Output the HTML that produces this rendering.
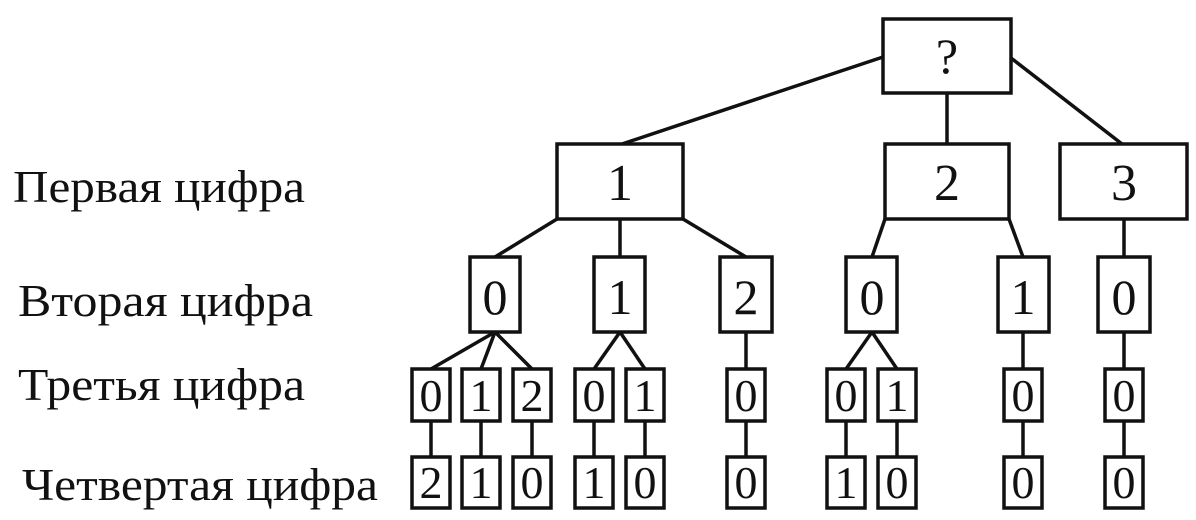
<!DOCTYPE html>
<html><head><meta charset="utf-8"><style>
html,body{margin:0;padding:0;background:#fff;}
svg{display:block;}
text{font-family:"Liberation Serif",serif;fill:#111;}
</style></head><body>
<svg width="1196" height="520" viewBox="0 0 1196 520" xmlns="http://www.w3.org/2000/svg">
<g stroke="#111" stroke-width="3.5" fill="none">
<rect x="883" y="19" width="128" height="74"/>
<line x1="883" y1="57" x2="622" y2="144"/>
<line x1="947" y1="93" x2="947" y2="144"/>
<line x1="1011" y1="58" x2="1122" y2="144"/>
<rect x="557" y="144" width="126" height="75"/>
<rect x="885" y="144" width="124" height="75"/>
<rect x="1060" y="144" width="127" height="75"/>
<line x1="557" y1="219" x2="495" y2="257"/>
<line x1="620" y1="219" x2="620" y2="257"/>
<line x1="683" y1="219" x2="746" y2="257"/>
<line x1="885" y1="219" x2="872" y2="257"/>
<line x1="1009" y1="219" x2="1023" y2="257"/>
<line x1="1124" y1="219" x2="1124" y2="257"/>
<rect x="470" y="257" width="50" height="75"/>
<rect x="594" y="257" width="51" height="75"/>
<rect x="720" y="257" width="52" height="75"/>
<rect x="846" y="257" width="51" height="75"/>
<rect x="998" y="257" width="51" height="75"/>
<rect x="1098" y="257" width="52" height="75"/>
<line x1="495" y1="332" x2="431" y2="369"/>
<line x1="495" y1="332" x2="481" y2="369"/>
<line x1="495" y1="332" x2="532" y2="369"/>
<line x1="620" y1="332" x2="594" y2="369"/>
<line x1="620" y1="332" x2="645" y2="369"/>
<line x1="746" y1="332" x2="746" y2="369"/>
<line x1="872" y1="332" x2="846" y2="369"/>
<line x1="872" y1="332" x2="897" y2="369"/>
<line x1="1023" y1="332" x2="1023" y2="369"/>
<line x1="1124" y1="332" x2="1124" y2="369"/>
<rect x="412" y="369" width="38" height="52"/><rect x="412" y="457" width="38" height="51"/><line x1="431" y1="421" x2="431" y2="457"/>
<rect x="462" y="369" width="38" height="52"/><rect x="462" y="457" width="38" height="51"/><line x1="481" y1="421" x2="481" y2="457"/>
<rect x="513" y="369" width="38" height="52"/><rect x="513" y="457" width="38" height="51"/><line x1="532" y1="421" x2="532" y2="457"/>
<rect x="575" y="369" width="38" height="52"/><rect x="575" y="457" width="38" height="51"/><line x1="594" y1="421" x2="594" y2="457"/>
<rect x="626" y="369" width="38" height="52"/><rect x="626" y="457" width="38" height="51"/><line x1="645" y1="421" x2="645" y2="457"/>
<rect x="727" y="369" width="38" height="52"/><rect x="727" y="457" width="38" height="51"/><line x1="746" y1="421" x2="746" y2="457"/>
<rect x="827" y="369" width="38" height="52"/><rect x="827" y="457" width="38" height="51"/><line x1="846" y1="421" x2="846" y2="457"/>
<rect x="878" y="369" width="38" height="52"/><rect x="878" y="457" width="38" height="51"/><line x1="897" y1="421" x2="897" y2="457"/>
<rect x="1004" y="369" width="38" height="52"/><rect x="1004" y="457" width="38" height="51"/><line x1="1023" y1="421" x2="1023" y2="457"/>
<rect x="1105" y="369" width="38" height="52"/><rect x="1105" y="457" width="38" height="51"/><line x1="1124" y1="421" x2="1124" y2="457"/>
</g>
<g text-anchor="middle">
<text x="947" y="73" font-size="50">?</text>
<text x="620" y="200" font-size="52">1</text>
<text x="947" y="200" font-size="52">2</text>
<text x="1124" y="200" font-size="52">3</text>
<g font-size="50">
<text x="495" y="314">0</text><text x="620" y="314">1</text><text x="746" y="314">2</text>
<text x="872" y="314">0</text><text x="1023" y="314">1</text><text x="1124" y="314">0</text>
</g>
<g font-size="46">
<text x="431" y="411">0</text><text x="481" y="411">1</text><text x="532" y="411">2</text>
<text x="594" y="411">0</text><text x="645" y="411">1</text><text x="746" y="411">0</text>
<text x="846" y="411">0</text><text x="897" y="411">1</text><text x="1023" y="411">0</text><text x="1124" y="411">0</text>
<text x="431" y="498">2</text><text x="481" y="498">1</text><text x="532" y="498">0</text>
<text x="594" y="498">1</text><text x="645" y="498">0</text><text x="746" y="498">0</text>
<text x="846" y="498">1</text><text x="897" y="498">0</text><text x="1023" y="498">0</text><text x="1124" y="498">0</text>
</g>
</g>
<g font-size="45">
<text x="13" y="202" textLength="292" lengthAdjust="spacingAndGlyphs">Первая цифра</text>
<text x="18" y="316" textLength="295" lengthAdjust="spacingAndGlyphs">Вторая цифра</text>
<text x="18" y="400" textLength="287" lengthAdjust="spacingAndGlyphs">Третья цифра</text>
<text x="22" y="500" textLength="356" lengthAdjust="spacingAndGlyphs">Четвертая цифра</text>
</g>
</svg>
</body></html>
